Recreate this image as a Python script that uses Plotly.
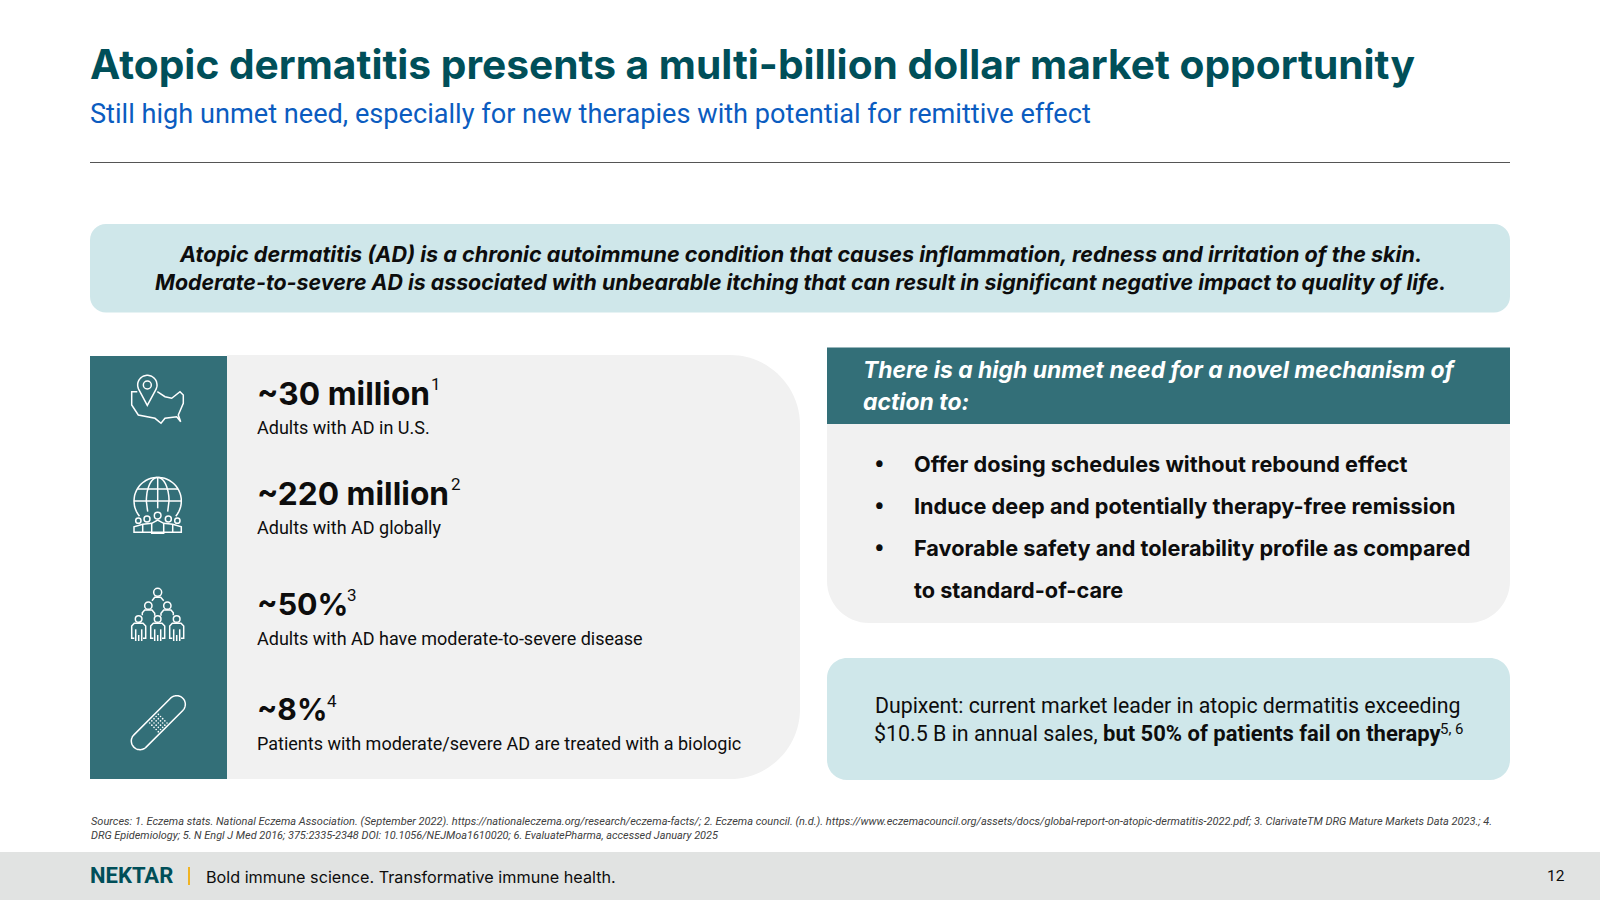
import numpy as np
import plotly.graph_objects as go

# textos de la diapositiva
titulo = "Atopic dermatitis presents a multi-billion dollar market opportunity"
subtitulo = "Still high unmet need, especially for new therapies with potential for remittive effect"
banner_lineas = [
    "Atopic dermatitis (AD) is a chronic autoimmune condition that causes inflammation, redness and irritation of the skin.",
    "Moderate-to-severe AD is associated with unbearable itching that can result in significant negative impact to quality of life.",
]
stat_valores = ["~30 million", "~220 million", "~50%", "~8%"]
stat_notas = ["1", "2", "3", "4"]
stat_textos = [
    "Adults with AD in U.S.",
    "Adults with AD globally",
    "Adults with AD have moderate-to-severe disease",
    "Patients with moderate/severe AD are treated with a biologic",
]
cabecera_lineas = ["There is a high unmet need for a novel mechanism of", "action to:"]
bullets = [
    "Offer dosing schedules without rebound effect",
    "Induce deep and potentially therapy-free remission",
    "Favorable safety and tolerability profile as compared",
    "to standard-of-care",
]
dupixent_1 = "Dupixent: current market leader in atopic dermatitis exceeding"
dupixent_2 = "$10.5 B in annual sales,"
dupixent_3 = "but 50% of patients fail on therapy"
dupixent_nota = "5, 6"
fuentes_lineas = [
    "Sources: 1. Eczema stats. National Eczema Association. (September 2022). https://nationaleczema.org/research/eczema-facts/; 2. Eczema council. (n.d.). https://www.eczemacouncil.org/assets/docs/global-report-on-atopic-dermatitis-2022.pdf; 3. ClarivateTM DRG Mature Markets Data 2023.; 4.",
    "DRG Epidemiology; 5. N Engl J Med 2016; 375:2335-2348 DOI: 10.1056/NEJMoa1610020; 6. EvaluatePharma, accessed January 2025",
]
logo = "NEKTAR"
lema = "Bold immune science. Transformative immune health."
pagina = "12"

FUENTE = "Roboto"
FUERTE = "Inter"
TEAL = "#336f78"
GRIS = "#f1f1f1"
CELESTE = "#cfe7ea"
NEGRO = "#0d0d0d"

fig = go.Figure()


def caja(x0, y0, x1, y1, color, r=(0, 0, 0, 0)):
    # rectangulo con esquinas redondeadas (sup-izq, sup-der, inf-der, inf-izq)
    k = 0.4477
    a, b, c, d = r
    p = f"M{x0 + a},{y0} L{x1 - b},{y0} "
    p += f"C{x1 - b * k},{y0} {x1},{y0 + b * k} {x1},{y0 + b} L{x1},{y1 - c} "
    p += f"C{x1},{y1 - c * k} {x1 - c * k},{y1} {x1 - c},{y1} L{x0 + d},{y1} "
    p += f"C{x0 + d * k},{y1} {x0},{y1 - d * k} {x0},{y1 - d} L{x0},{y0 + a} "
    p += f"C{x0},{y0 + a * k} {x0 + a * k},{y0} {x0 + a},{y0} Z"
    fig.add_shape(type="path", path=p, fillcolor=color, line_width=0, layer="below")


def texto(x, y, s, size, color=NEGRO, weight=400, style="normal", anchor="left", family=None):
    fig.add_annotation(
        x=x, y=y, text=s, showarrow=False, xanchor=anchor, yanchor="middle", align=anchor, borderpad=0,
        font=dict(family=family or FUENTE, size=size, color=color, weight=weight, style=style),
    )


def trazo(puntos, ox, oy, ancho=1.5, cerrar=False):
    p = "M" + " L".join(f"{ox + a / 3:.1f},{oy + b / 3:.1f}" for a, b in puntos)
    if cerrar:
        p += " Z"
    fig.add_shape(type="path", path=p, line=dict(color="white", width=ancho))


def circulo(cx, cy, r, ox, oy, ancho=1.5, relleno=None):
    fig.add_shape(
        type="circle", x0=ox + (cx - r) / 3, x1=ox + (cx + r) / 3, y0=oy + (cy - r) / 3, y1=oy + (cy + r) / 3,
        line=dict(color="white", width=ancho), fillcolor=relleno,
    )


def arco(cx, cy, rx, ry, a0, a1, n=40):
    t = np.radians(np.linspace(a0, a1, n))
    return list(zip(cx + rx * np.cos(t), cy + ry * np.sin(t)))


# fondos
caja(0, 852, 1600, 900, "#e1e3e2")
caja(90, 224, 1510, 312.5, CELESTE, (16, 16, 16, 16))
caja(227, 355, 800, 779, GRIS, (0, 70, 70, 0))
caja(90, 356, 227, 779, TEAL)
caja(827, 420, 1510, 623, GRIS, (0, 0, 42, 42))
caja(827, 347.5, 1510, 424, TEAL)
caja(827, 658, 1510, 780, CELESTE, (20, 20, 20, 20))
fig.add_shape(type="line", x0=90, x1=1510, y0=162.5, y1=162.5, line=dict(color="#555555", width=1.2))
fig.add_shape(type="line", x0=189, x1=189, y0=867, y1=885, line=dict(color="#f0b323", width=2))

# icono 1: mapa con marcador
ox, oy = 80, 340
trazo([(172, 155), (155, 155), (155, 195), (175, 225), (225, 235), (243, 250), (255, 235), (290, 230), (302, 245),
       (295, 225), (310, 190), (310, 165), (300, 155), (275, 175), (255, 170), (232, 155)], ox, oy)
trazo(arco(202, 135, 29, 29, 150, 390) + [(202, 196)], ox, oy, cerrar=True)
circulo(202, 135, 12, ox, oy)

# icono 2: globo con personas
trazo(arco(233, 483, 71, 71, 140, 400), ox, oy)
trazo(arco(233, 483, 34, 71, 180, 360), ox, oy)
trazo([(233, 412), (233, 505)], ox, oy)
trazo([(172, 447), (294, 447)], ox, oy)
trazo([(162, 483), (304, 483)], ox, oy)
trazo([(199, 483), (203, 515)], ox, oy)
trazo([(267, 483), (263, 515)], ox, oy)
for cx, cy, r in [(175, 542, 8), (201, 537, 9), (233, 527, 10), (265, 537, 9), (292, 542, 8)]:
    circulo(cx, cy, r, ox, oy)
trazo([(162, 577), (162, 560), (188, 553), (215, 550), (233, 540), (251, 550), (278, 553), (304, 560), (304, 577)], ox, oy, cerrar=True)
trazo([(215, 550), (215, 580), (251, 580), (251, 550)], ox, oy)
trazo([(188, 553), (188, 577)], ox, oy)
trazo([(278, 553), (278, 577)], ox, oy)

# icono 3: piramide de personas
ox, oy = 80, 570
circulo(233, 67, 12, ox, oy)
for cx, cy in [(205, 107), (262, 107)]:
    circulo(cx, cy, 11, ox, oy)
trazo([(216, 92), (224, 82), (242, 82), (251, 92)], ox, oy)
trazo([(187, 136), (187, 128), (194, 120), (216, 120), (224, 130), (224, 137)], ox, oy)
trazo([(243, 137), (243, 130), (251, 120), (273, 120), (280, 128), (280, 136)], ox, oy)
for cx in [176, 233, 290]:
    circulo(cx, 147, 10, ox, oy)
    trazo([(cx - 13, 205), (cx - 21, 205), (cx - 21, 168), (cx - 13, 160), (cx + 13, 160), (cx + 21, 168), (cx + 21, 205), (cx + 13, 205)], ox, oy)
    trazo([(cx - 9, 178), (cx - 9, 213)], ox, oy)
    trazo([(cx + 9, 178), (cx + 9, 213)], ox, oy)
    trazo([(cx, 195), (cx, 213)], ox, oy)

# icono 4: tirita
trazo(arco(180, 513, 26, 26, 45, 225) + arco(290, 403, 26, 26, 225, 405), ox, oy, cerrar=True)
for i in range(-2, 3):
    for j in range(-2, 3):
        circulo(235 + (i + j) * 6.5, 459 + (i - j) * 6.5, 2.5, ox, oy, ancho=0, relleno="white")

# textos
texto(89, 64, titulo, 40.7, "#004f59", 700, family=FUERTE)
texto(89, 114, subtitulo, 27.15, "#0b5cc0")
for y, t, s in zip([254, 282], [21.6, 21.35], banner_lineas):
    texto(800, y, s, t, NEGRO, 700, "italic", "center", FUERTE)
for yv, ys, t, v, s in zip([393, 493, 604, 709], [427, 527, 638, 743], [31.7, 31.7, 30.4, 30], stat_valores, stat_textos):
    texto(256, yv, v, t, NEGRO, 700, family=FUERTE)
    texto(256, ys, s, 18)
for x, y, n in zip([436, 456, 352, 332], [384, 484, 595, 701], stat_notas):
    texto(x, y, n, 17, anchor="center")
for y, s in zip([370, 402], cabecera_lineas):
    texto(862, y, s, 22.9, "white", 700, "italic", family=FUERTE)
for y, s in zip([464, 506, 548, 590], bullets):
    texto(912.5, y, s, 21.7, NEGRO, 700, family=FUERTE)
for y in [464, 506, 548]:
    texto(879, y, "•", 32, NEGRO, anchor="center")
texto(1168, 705.5, dupixent_1, 21.3, anchor="center")
texto(873, 733.5, dupixent_2, 21.4)
texto(1102, 733.5, dupixent_3, 22, weight=700)
texto(1452, 729, dupixent_nota, 15, anchor="center")
for y, t, s in zip([821, 835], [11, 10.9], fuentes_lineas):
    texto(89.5, y, s, t, "#404040", 400, "italic")
texto(89, 875, logo, 22, "#004f59", 700)
texto(205, 877, lema, 16.2, NEGRO, family="Inter")
texto(1566, 876, pagina, 15.5, NEGRO, anchor="right")

fig.update_layout(
    width=1600, height=900, margin=dict(l=0, r=0, t=0, b=0),
    paper_bgcolor="white", plot_bgcolor="white", showlegend=False,
    xaxis=dict(range=[0, 1600], visible=False, fixedrange=True),
    yaxis=dict(range=[900, 0], visible=False, fixedrange=True),
)
fig.write_html("out.html", config=dict(displayModeBar=False), post_script="document.body.style.margin='0';")
